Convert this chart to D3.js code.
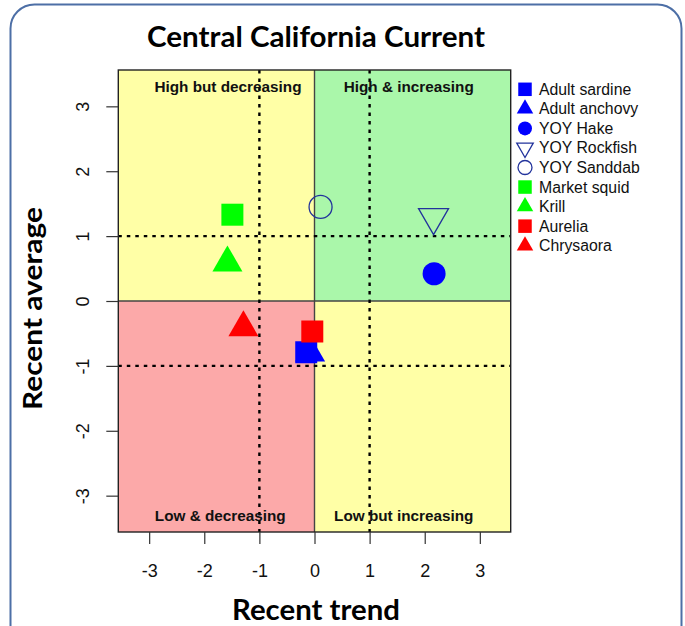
<!DOCTYPE html>
<html>
<head>
<meta charset="utf-8">
<script src="https://cdn.jsdelivr.net/npm/d3@7"></script>
<style>
  html, body { margin: 0; padding: 0; background: #fff; }
  svg { display: block; }
</style>
</head>
<body>
<svg id="chart" width="685" height="626"></svg>
<script>
// Species plotted by recent trend (x) against recent average (y)
const species = ["Adult sardine", "Adult anchovy", "YOY Hake", "YOY Rockfish", "YOY Sanddab",
                 "Market squid", "Krill", "Aurelia", "Chrysaora"];
const recentTrend   = [-0.15, -0.08, 2.17, 2.16, 0.11, -1.49, -1.58, -0.04, -1.29];
const recentAverage = [-0.79, -0.80, 0.42, 1.29, 1.45,  1.33,  0.59, -0.47, -0.41];

const tickValues = [-3, -2, -1, 0, 1, 2, 3];
const quadrantLabels = ["High but decreasing", "High & increasing", "Low & decreasing", "Low but increasing"];
const quadrantLabelX = [-1.57, 1.71, -1.71, 1.62];
const referenceLines = [-1, 1];

// Marker style per species: shape, fill, outline
const markerStyle = {
  "Adult sardine": { shape: "square",   fill: "#0000ff" },
  "Adult anchovy": { shape: "triangle", fill: "#0000ff" },
  "YOY Hake":      { shape: "circle",   fill: "#0000ff" },
  "YOY Rockfish":  { shape: "down",     fill: "none", stroke: "#22339c" },
  "YOY Sanddab":   { shape: "circle",   fill: "none", stroke: "#22339c" },
  "Market squid":  { shape: "square",   fill: "#00ff00" },
  "Krill":         { shape: "triangle", fill: "#00ff00" },
  "Aurelia":       { shape: "square",   fill: "#ff0000" },
  "Chrysaora":     { shape: "triangle", fill: "#ff0000" }
};

const SANS = "'Liberation Sans', Arimo, Arial, sans-serif";
const HEAD = "Lato, 'Open Sans', sans-serif";

const svg = d3.select("#chart");
const plot = { left: 118.3, right: 510.7, top: 70, bottom: 532 };

// slide frame
svg.append("rect").attr("x", 10.5).attr("y", 4.5).attr("width", 671).attr("height", 720)
  .attr("rx", 24).attr("fill", "#fff").attr("stroke", "#4d6fa6").attr("stroke-width", 2);

const x = d3.scaleLinear().domain([-3.56, 3.56]).range([plot.left, plot.right]);
const y = d3.scaleLinear().domain([-3.56, 3.56]).range([plot.bottom, plot.top]);

// quadrant backgrounds
const quads = [
  { x0: -3.56, x1: 0,    y0: 0,     y1: 3.56, c: "#ffffa6" },
  { x0: 0,     x1: 3.56, y0: 0,     y1: 3.56, c: "#aaf7aa" },
  { x0: -3.56, x1: 0,    y0: -3.56, y1: 0,    c: "#fca9a9" },
  { x0: 0,     x1: 3.56, y0: -3.56, y1: 0,    c: "#ffffa6" }
];
svg.append("g").selectAll("rect").data(quads).join("rect")
  .attr("x", d => x(d.x0)).attr("y", d => y(d.y1))
  .attr("width", d => x(d.x1) - x(d.x0)).attr("height", d => y(d.y0) - y(d.y1))
  .attr("fill", d => d.c);

// zero lines
svg.append("line").attr("x1", x(0)).attr("x2", x(0)).attr("y1", plot.top).attr("y2", plot.bottom)
  .attr("stroke", "#444").attr("stroke-width", 1.4);
svg.append("line").attr("x1", plot.left).attr("x2", plot.right).attr("y1", y(0)).attr("y2", y(0))
  .attr("stroke", "#444").attr("stroke-width", 1.4);

// dotted reference lines at +/-1
const ref = svg.append("g").attr("stroke", "#000").attr("stroke-width", 2.4).attr("stroke-dasharray", "3.5,5");
ref.selectAll("line.v").data(referenceLines).join("line").attr("class", "v")
  .attr("x1", d => x(d)).attr("x2", d => x(d)).attr("y1", plot.top).attr("y2", plot.bottom);
ref.selectAll("line.h").data(referenceLines).join("line").attr("class", "h")
  .attr("x1", plot.left).attr("x2", plot.right).attr("y1", d => y(d)).attr("y2", d => y(d));

// quadrant labels
const qlab = svg.append("g").attr("font-family", SANS)
  .attr("font-weight", "bold").attr("font-size", 15.3).attr("text-anchor", "middle").attr("fill", "#111");
quadrantLabels.forEach((t, i) => {
  qlab.append("text").attr("x", x(quadrantLabelX[i])).attr("y", i < 2 ? 91.5 : 520.5).text(t);
});

// marker path generator
function markerPath(shape, s) {
  if (shape === "square") return d3.symbol(d3.symbolSquare, s.sq * s.sq)();
  if (shape === "circle") return d3.symbol(d3.symbolCircle, Math.PI * s.r * s.r)();
  const side = s.tri;
  const area = Math.sqrt(3) / 4 * side * side;
  return d3.symbol(d3.symbolTriangle, area)();
}
function drawMarker(g, name, cx, cy, s) {
  const st = markerStyle[name];
  g.append("path")
    .attr("d", markerPath(st.shape, s))
    .attr("transform", `translate(${cx},${cy})` + (st.shape === "down" ? " rotate(180)" : ""))
    .attr("fill", st.fill)
    .attr("stroke", st.stroke || "none")
    .attr("stroke-width", st.stroke ? 1.3 : 0);
}

const pts = svg.append("g");
species.forEach((name, i) => {
  drawMarker(pts, name, x(recentTrend[i]), y(recentAverage[i]), { sq: 22, r: 11.5, tri: 30 });
});

// plot box
svg.append("rect").attr("x", plot.left).attr("y", plot.top)
  .attr("width", plot.right - plot.left).attr("height", plot.bottom - plot.top)
  .attr("fill", "none").attr("stroke", "#222").attr("stroke-width", 1.4);

// axes (plain hyphen for negative numbers)
const fmt = d => String(d);
const xAxis = svg.append("g").attr("transform", `translate(0,${plot.bottom})`)
  .call(d3.axisBottom(x).tickValues(tickValues).tickSize(12).tickFormat(fmt));
const yAxis = svg.append("g").attr("transform", `translate(${plot.left},0)`)
  .call(d3.axisLeft(y).tickValues(tickValues).tickSize(12).tickFormat(fmt));
[xAxis, yAxis].forEach(a => {
  a.attr("font-family", SANS).attr("font-size", 18);
  a.select(".domain").remove();
  a.selectAll(".tick line").attr("stroke", "#333").attr("stroke-width", 1.2);
  a.selectAll(".tick text").attr("fill", "#111");
});
xAxis.selectAll(".tick text").attr("dy", null).attr("y", 45);
yAxis.selectAll(".tick text")
  .attr("x", null).attr("dy", null).attr("text-anchor", "middle")
  .attr("transform", "translate(-29,0) rotate(-90)");

// legend
const legend = svg.append("g").attr("font-family", SANS).attr("font-size", 15.8).attr("fill", "#111");
species.forEach((name, i) => {
  const ly = 89.3 + i * 19.55;
  drawMarker(legend, name, 525, ly, { sq: 13.5, r: 7, tri: 16.5 });
  legend.append("text").attr("x", 539).attr("y", ly + 5.5).text(name);
});

// titles
svg.append("text").attr("x", 316).attr("y", 47).attr("text-anchor", "middle")
  .attr("font-family", HEAD).attr("font-weight", "bold")
  .attr("font-size", 28).attr("textLength", 338).attr("lengthAdjust", "spacingAndGlyphs")
  .attr("fill", "#000").text("Central California Current");
svg.append("text").attr("x", 316).attr("y", 620).attr("text-anchor", "middle")
  .attr("font-family", HEAD).attr("font-weight", "bold")
  .attr("font-size", 28).attr("textLength", 168).attr("lengthAdjust", "spacingAndGlyphs")
  .attr("fill", "#000").text("Recent trend");
svg.append("text").attr("transform", "translate(42,308.5) rotate(-90)").attr("text-anchor", "middle")
  .attr("font-family", HEAD).attr("font-weight", "bold")
  .attr("font-size", 26).attr("textLength", 203).attr("lengthAdjust", "spacingAndGlyphs")
  .attr("fill", "#000").text("Recent average");
</script>
</body>
</html>
